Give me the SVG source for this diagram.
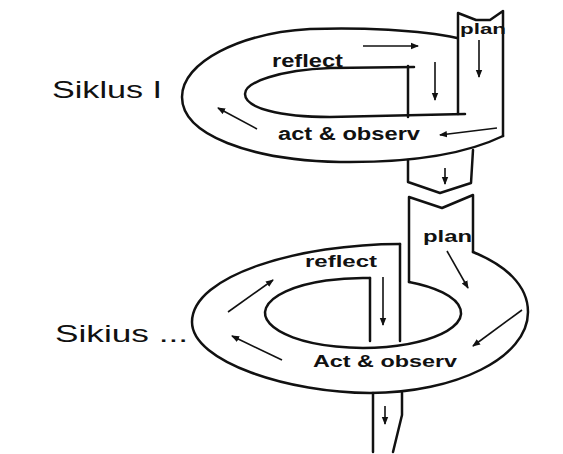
<svg xmlns="http://www.w3.org/2000/svg" width="563" height="454" viewBox="0 0 563 454">
<defs>
<marker id="ah" markerWidth="8" markerHeight="8" refX="7" refY="4" orient="auto" markerUnits="userSpaceOnUse">
<path d="M0,0.8 L8,4 L0,7.2 Z" fill="#111"/>
</marker>
<style>
.ln{fill:none;stroke:#111;stroke-width:2.5;stroke-linecap:round;stroke-linejoin:round}
.ar{fill:none;stroke:#111;stroke-width:1.6;marker-end:url(#ah)}
.lb{font-family:"Liberation Sans",Arial,sans-serif;font-weight:bold;fill:#111}
.tt{font-family:"Liberation Sans",Arial,sans-serif;fill:#111}
</style>
</defs>
<rect width="563" height="454" fill="#fff"/>

<g id="cycle1">
<path class="ln" d="M457,38 C420,30 360,27 310,29 C240,33 182,62 182,97 C182,135 250,160 340,162 C420,163 470,152 503,136"/>
<path class="ln" d="M414,67 L330,68 C280,70 245,82 245,94 C245,108 280,117 330,117 L465,114"/>
<path class="ln" d="M408,66 L408,117"/>
<path class="ln" d="M458,114 L458,13 L476,20 L490,20 L503,11 L503,136"/>
</g>

<g id="strip-middle">
<path class="ln" d="M408,160 L408,182 L440,193 L471,183 L473,150"/>
<path class="ln" d="M409,282 L409,197 L442,208 L473,195 L473,252"/>
</g>

<g id="cycle2">
<path class="ln" d="M400,244 C300,244 192,275 192,322 C192,362 290,393 370,393 C455,393 528,358 528,312 C528,285 505,265 473,252"/>
<path class="ln" d="M409,282 A98,35 0 1 1 370,278"/>
<path class="ln" d="M370,278 L370,341"/>
<path class="ln" d="M400,244 L400,341"/>
</g>

<g id="strip-bottom">
<path class="ln" d="M373,393 L373,452"/>
<path class="ln" d="M402,393 L402,415 L393,452"/>
</g>

<g id="connectors">
<path class="ar" d="M363,46 L418,46"/>
<path class="ar" d="M435,62 L435,100"/>
<path class="ar" d="M479,40 L479,77"/>
<path class="ar" d="M497,128 L440,135"/>
<path class="ar" d="M257,129 L218,108"/>
<path class="ar" d="M445,168 L445,184"/>
<path class="ar" d="M447,251 L468,288"/>
<path class="ar" d="M522,310 L473,346"/>
<path class="ar" d="M383,277 L383,325"/>
<path class="ar" d="M282,360 L232,336"/>
<path class="ar" d="M228,312 L273,280"/>
<path class="ar" d="M385,406 L385,424"/>
</g>

<g id="labels">
<text class="tt" x="52" y="98" font-size="24" textLength="110" lengthAdjust="spacingAndGlyphs">Siklus I</text>
<text class="tt" x="55" y="342" font-size="24" textLength="133" lengthAdjust="spacingAndGlyphs">Sikius ...</text>
<text class="lb" x="272" y="67" font-size="18" textLength="71" lengthAdjust="spacingAndGlyphs">reflect</text>
<text class="lb" x="278" y="140" font-size="18" textLength="142" lengthAdjust="spacingAndGlyphs">act &amp; observ</text>
<text class="lb" x="460" y="34" font-size="15" textLength="46" lengthAdjust="spacingAndGlyphs">plan</text>
<text class="lb" x="423" y="242" font-size="16.5" textLength="49" lengthAdjust="spacingAndGlyphs">plan</text>
<text class="lb" x="305" y="267" font-size="16.5" textLength="72" lengthAdjust="spacingAndGlyphs">reflect</text>
<text class="lb" x="313" y="367" font-size="16" textLength="144" lengthAdjust="spacingAndGlyphs">Act &amp; observ</text>
</g>
</svg>
